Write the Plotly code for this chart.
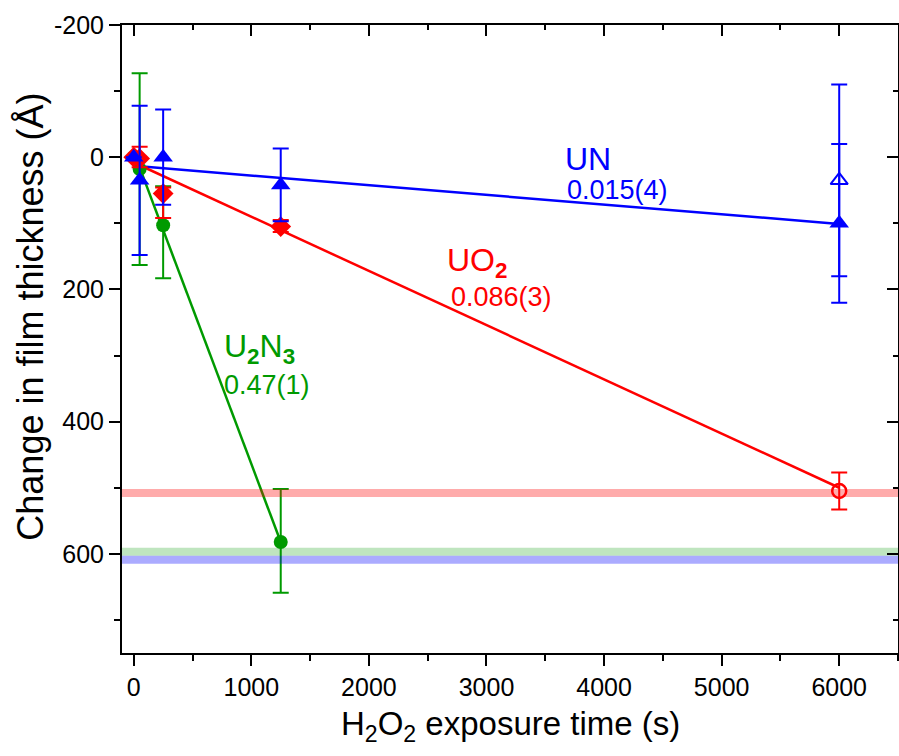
import plotly.graph_objects as go

# ---------------- data ----------------
# UN (blue, triangles)
un_x = [0, 50, 250, 1250, 6000]
un_y = [0, 35, 0, 42, 100]
un_err = [0, 113, 72, 55, 120]
un_open_x = [6000]
un_open_y = [35]
un_open_err = [145]
un_fit_x = [0, 6000]
un_fit_y = [13, 101]

# UO2 (red, diamonds)
uo2_x = [0, 50, 250, 1250]
uo2_y = [0, 2, 55, 105]
uo2_err_plus = [0, 13, 37, 8]
uo2_err_minus = [0, 18, 9, 10]
uo2_open_x = [6000]
uo2_open_y = [505]
uo2_open_err = [28]
uo2_fit_x = [0, 6000]
uo2_fit_y = [8, 500]

# U2N3 (green, circles)
u2n3_x = [0, 50, 250, 1250]
u2n3_y = [0, 18, 103, 582]
u2n3_err_plus = [0, 145, 80, 77]
u2n3_err_minus = [0, 145, 59, 80]
u2n3_fit_x = [0, 1250]
u2n3_fit_y = [-8, 582]

# total film thickness bands
band_x = [-100, 6500]
band_uo2 = 508
band_u2n3 = 597
band_un = 609

# tick labels
x_ticks = [0, 1000, 2000, 3000, 4000, 5000, 6000]
x_ticktext = ["0", "1000", "2000", "3000", "4000", "5000", "6000"]
y_ticks = [-200, 0, 200, 400, 600]
y_ticktext = ["-200", "0", "200", "400", "600"]

# labels
un_label, un_rate = "UN", "0.015(4)"
uo2_label, uo2_rate = "UO<sub><b>2</b></sub>", "0.086(3)"
u2n3_label, u2n3_rate = "U<sub><b>2</b></sub>N<sub><b>3</b></sub>", "0.47(1)"
x_title = "H<sub>2</sub>O<sub>2</sub> exposure time (s)"
y_title = "Change in film thickness (Å)"

BLUE = "#0000FF"
RED = "#FF0000"
GREEN = "#009A00"

fig = go.Figure()

# fit lines
fig.add_trace(go.Scatter(x=un_fit_x, y=un_fit_y, mode="lines", line=dict(color=BLUE, width=2.5), showlegend=False))
fig.add_trace(go.Scatter(x=uo2_fit_x, y=uo2_fit_y, mode="lines", line=dict(color=RED, width=2.5), showlegend=False))
fig.add_trace(go.Scatter(x=u2n3_fit_x, y=u2n3_fit_y, mode="lines", line=dict(color=GREEN, width=2.5), showlegend=False))

EB = dict(thickness=2, width=8)

# data points
fig.add_trace(go.Scatter(x=u2n3_x, y=u2n3_y, mode="markers",
                         marker=dict(symbol="circle", size=14, color=GREEN),
                         error_y=dict(type="data", array=u2n3_err_plus, arrayminus=u2n3_err_minus,
                                      color=GREEN, **EB),
                         showlegend=False))
fig.add_trace(go.Scatter(x=uo2_x, y=uo2_y, mode="markers",
                         marker=dict(symbol="diamond", size=16, color=RED),
                         error_y=dict(type="data", array=uo2_err_plus, arrayminus=uo2_err_minus,
                                      color=RED, **EB),
                         showlegend=False))
fig.add_trace(go.Scatter(x=uo2_open_x, y=uo2_open_y, mode="markers",
                         marker=dict(symbol="circle-open", size=14, color=RED, line=dict(width=2.5)),
                         error_y=dict(type="data", array=uo2_open_err, color=RED, **EB),
                         showlegend=False))
fig.add_trace(go.Scatter(x=un_x, y=un_y, mode="markers",
                         marker=dict(symbol="triangle-up", size=17, color=BLUE),
                         error_y=dict(type="data", array=un_err, color=BLUE, **EB),
                         showlegend=False))
fig.add_trace(go.Scatter(x=un_open_x, y=un_open_y, mode="markers",
                         marker=dict(symbol="triangle-up-open", size=15, color=BLUE, line=dict(width=2)),
                         error_y=dict(type="data", array=un_open_err, color=BLUE, **EB),
                         showlegend=False))

# bands (on top, translucent)
fig.add_trace(go.Scatter(x=band_x, y=[band_uo2] * 2, mode="lines",
                         line=dict(color="rgba(255,0,0,0.33)", width=8), showlegend=False))
fig.add_trace(go.Scatter(x=band_x, y=[band_u2n3] * 2, mode="lines",
                         line=dict(color="rgba(0,150,0,0.25)", width=8), showlegend=False))
fig.add_trace(go.Scatter(x=band_x, y=[band_un] * 2, mode="lines",
                         line=dict(color="rgba(0,0,255,0.33)", width=8), showlegend=False))

# dummy trace for mirrored axes
fig.add_trace(go.Scatter(x=[None], y=[None], xaxis="x2", yaxis="y2", showlegend=False, hoverinfo="skip"))

FONT = "Liberation Sans, Arial, sans-serif"

axis_common = dict(showgrid=False, zeroline=False, showline=True, linecolor="black", linewidth=2,
                   tickcolor="black", tickwidth=2, ticklen=11)

fig.update_layout(
    width=899, height=756,
    margin=dict(l=122, r=1, t=25, b=103),
    plot_bgcolor="white", paper_bgcolor="white",
    showlegend=False,
    xaxis=dict(range=[-100, 6500], tickmode="array", tickvals=x_ticks, ticktext=x_ticktext,
               ticks="outside",
               tickfont=dict(family=FONT, size=25, color="black"),
               minor=dict(tickmode="linear", tick0=0, dtick=500, ticklen=6, tickwidth=2,
                          tickcolor="black", ticks="outside"),
               **axis_common),
    yaxis=dict(range=[750, -200], tickmode="array", tickvals=y_ticks, ticktext=y_ticktext,
               ticks="outside",
               tickfont=dict(family=FONT, size=25, color="black"),
               minor=dict(tickmode="linear", tick0=-200, dtick=100, ticklen=6, tickwidth=2,
                          tickcolor="black", ticks="outside"),
               **axis_common),
    xaxis2=dict(range=[-100, 6500], overlaying="x", side="top", tick0=0, dtick=1000, ticks="inside",
                showticklabels=False,
                minor=dict(dtick=500, ticklen=5, tickwidth=2, tickcolor="black", ticks="inside"),
                **axis_common),
    yaxis2=dict(range=[750, -200], overlaying="y", side="right", tick0=-200, dtick=200, ticks="inside",
                showticklabels=False,
                minor=dict(dtick=100, ticklen=5, tickwidth=2, tickcolor="black", ticks="inside"),
                **axis_common),
)

def lab(x, y, text, color, size):
    fig.add_annotation(x=x, y=y, xref="x", yref="y", text=text, showarrow=False,
                       xanchor="left", yanchor="middle", font=dict(family=FONT, size=size, color=color))

lab(3650, 2, un_label, BLUE, 32)
lab(3670, 50, un_rate, BLUE, 27)
lab(2650, 160, uo2_label, RED, 32)
lab(2680, 212, uo2_rate, RED, 27)
lab(750, 289, u2n3_label, GREEN, 32)
lab(750, 344, u2n3_rate, GREEN, 27)

# axis titles
fig.add_annotation(x=0.5, y=-0.117, xref="paper", yref="paper", xanchor="center", yanchor="middle",
                   text=x_title, showarrow=False, font=dict(family=FONT, size=33, color="black"))
fig.add_annotation(x=-0.119, y=0.535, xref="paper", yref="paper", xanchor="center", yanchor="middle",
                   text=y_title, textangle=-90, showarrow=False,
                   font=dict(family=FONT, size=36, color="black"))

fig.write_html("out.html")
